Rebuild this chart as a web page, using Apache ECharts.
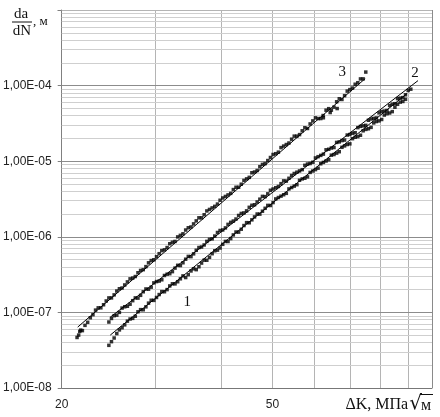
<!DOCTYPE html>
<html><head><meta charset="utf-8">
<script src="https://cdn.jsdelivr.net/npm/echarts@6/dist/echarts.min.js"></script>
<style>html,body{margin:0;padding:0;background:#fff}#c{width:440px;height:417px}</style>
</head><body><div id="c"></div>
<script>
// ---- data (ΔK in MPa·√m, da/dN in m/cycle) ----
const dK3 = [21.38,21.88,22.39,22.91,23.44,23.99,24.55,25.12,25.70,26.30,26.92,27.54,28.18,28.84,29.51,30.20,30.90,31.62,32.36,33.11,33.88,34.67,35.48,36.31,37.15,38.02,38.90,39.81,40.74,41.69,42.66,43.65,44.67,45.71,46.77,47.86,48.98,50.12,51.29,52.48,53.70,54.95,56.23,57.54,58.88,60.26,61.66,63.10,64.57,66.07,67.61,69.18,70.79,72.44,74.13,74.99,64.24,66.22,62.3,21.53,21.72];
const rate3 = [4.66e-8,5.74e-8,7.40e-8,9.33e-8,1.149e-7,1.262e-7,1.554e-7,1.706e-7,2.054e-7,2.307e-7,2.778e-7,2.981e-7,3.588e-7,4.031e-7,4.853e-7,5.452e-7,6.563e-7,7.206e-7,8.479e-7,9.97e-7,1.095e-6,1.318e-6,1.481e-6,1.783e-6,1.958e-6,2.302e-6,2.529e-6,3.044e-6,3.419e-6,3.754e-6,4.520e-6,4.962e-6,5.837e-6,7.029e-6,7.54e-6,9.077e-6,1.020e-5,1.227e-5,1.317e-5,1.585e-5,1.741e-5,2.145e-5,2.248e-5,2.770e-5,3.112e-5,3.746e-5,3.666e-5,4.727e-5,4.733e-5,6.107e-5,6.553e-5,8.453e-5,9.28e-5,1.092e-4,1.227e-4,1.510e-4,4.403e-5,4.97e-5,4.018e-5,5.01e-8,5.83e-8];
const dK3b = [21.63,22.13,22.65,23.17,23.71,24.27,24.83,25.41,26.00,26.61,27.23,27.86,28.51,29.17,29.85,30.55,31.26,31.99,32.73,33.50,34.28,35.08,35.89,36.73,37.58,38.46,39.36,40.27,41.21,42.17,43.15,44.16,45.19,46.24,47.32,48.42,49.55,50.70,51.88,53.09,54.33,55.59,56.89,58.21,59.57,60.95,62.37,63.83,65.31,66.83,68.39,69.98,71.61,73.28];
const rate3b = [5.60e-8,6.74e-8,8.50e-8,1.072e-7,1.150e-7,1.416e-7,1.555e-7,1.916e-7,2.103e-7,2.532e-7,2.844e-7,3.346e-7,3.674e-7,4.526e-7,4.969e-7,5.982e-7,6.72e-7,8.09e-7,8.68e-7,1.045e-6,1.229e-6,1.349e-6,1.624e-6,1.783e-6,2.198e-6,2.413e-6,2.710e-6,3.263e-6,3.583e-6,4.215e-6,4.522e-6,5.570e-6,6.115e-6,7.194e-6,8.465e-6,9.29e-6,1.119e-5,1.257e-5,1.513e-5,1.661e-5,1.954e-5,2.146e-5,2.524e-5,2.708e-5,3.413e-5,3.663e-5,3.753e-5,4.954e-5,5.194e-5,6.70e-5,7.355e-5,8.855e-5,1.042e-4,1.226e-4];

const dK2 = [24.55,25.12,25.70,26.30,26.92,27.54,28.18,28.84,29.51,30.20,30.90,31.62,32.36,33.11,33.88,34.67,35.48,36.31,37.15,38.02,38.90,39.81,40.74,41.69,42.66,43.65,44.67,45.71,46.77,47.86,48.98,50.12,51.29,52.48,53.70,54.95,56.23,57.54,58.88,60.26,61.66,63.10,64.57,66.07,67.61,69.18,70.79,72.44,74.13,75.86,77.62,79.43,81.28,83.18,85.11,87.10,89.13,91.20];
const rate2 = [7.46e-8,9.05e-8,1.001e-7,1.187e-7,1.283e-7,1.556e-7,1.682e-7,2.041e-7,2.157e-7,2.555e-7,2.70e-7,3.20e-7,3.461e-7,4.197e-7,4.537e-7,5.503e-7,5.95e-7,7.216e-7,7.80e-7,9.25e-7,1.023e-6,1.212e-6,1.311e-6,1.554e-6,1.719e-6,2.038e-6,2.203e-6,2.611e-6,2.888e-6,3.424e-6,3.702e-6,4.289e-6,4.636e-6,5.495e-6,5.94e-6,6.88e-6,7.44e-6,8.819e-6,9.32e-6,1.104e-5,1.194e-5,1.415e-5,1.495e-5,1.772e-5,1.873e-5,2.219e-5,2.345e-5,2.779e-5,2.936e-5,3.480e-5,3.678e-5,4.358e-5,4.605e-5,5.458e-5,5.767e-5,6.835e-5,7.56e-5,8.966e-5];
const dK2b = [24.83,25.41,26.00,26.61,27.23,27.86,28.51,29.17,29.85,30.55,31.26,31.99,32.73,33.50,34.28,35.08,35.89,36.73,37.58,38.46,39.36,40.27,41.21,42.17,43.15,44.16,45.19,46.24,47.32,48.42,49.55,50.70,51.88,53.09,54.33,55.59,56.89,58.21,59.57,60.95,62.37,63.83,65.31,66.83,68.39,69.98,71.61,73.28,74.99,76.74,78.52,80.35,82.22,84.14,86.10,88.10,90.16];
const rate2b = [8.316e-8,9.196e-8,1.141e-7,1.206e-7,1.429e-7,1.545e-7,1.874e-7,2.026e-7,2.458e-7,2.597e-7,3.078e-7,3.252e-7,3.854e-7,4.167e-7,5.053e-7,5.464e-7,6.63e-7,7.33e-7,8.69e-7,9.396e-7,1.140e-6,1.232e-6,1.460e-6,1.615e-6,1.915e-6,2.070e-6,2.454e-6,2.653e-6,3.145e-6,3.399e-6,4.124e-6,4.460e-6,5.047e-6,5.457e-6,6.467e-6,7.153e-6,7.734e-6,9.17e-6,9.685e-6,1.148e-5,1.241e-5,1.438e-5,1.518e-5,1.800e-5,1.903e-5,2.255e-5,2.382e-5,2.889e-5,2.983e-5,3.618e-5,3.735e-5,4.531e-5,4.679e-5,5.674e-5,6.726e-5,6.943e-5,8.619e-5];

const dK1 = [24.55,25.12,25.70,26.30,26.92,27.54,28.18,28.84,29.51,30.20,30.90,31.62,32.36,33.11,33.88,34.67,35.48,36.31,37.15,38.02,38.90,39.81,40.74,41.69,42.66,43.65,44.67,45.71,46.77,47.86,48.98,50.12,51.29,52.48,53.70,54.95,56.23,57.54,58.88,60.26,61.66,63.10,64.57,66.07,67.61,69.18,70.79,72.44,74.13,75.86,77.62,79.43,81.28,83.18,85.11,87.10,89.13];
const rate1 = [3.667e-8,4.585e-8,5.867e-8,6.845e-8,8.174e-8,8.903e-8,1.088e-7,1.185e-7,1.447e-7,1.576e-7,1.883e-7,2.003e-7,2.391e-7,2.546e-7,3.04e-7,3.161e-7,3.775e-7,4.017e-7,4.909e-7,5.346e-7,6.531e-7,7.114e-7,8.69e-7,9.467e-7,1.157e-6,1.26e-6,1.539e-6,1.676e-6,2.001e-6,2.180e-6,2.602e-6,2.835e-6,3.308e-6,3.601e-6,4.301e-6,4.684e-6,5.592e-6,5.95e-6,7.107e-6,7.74e-6,9.245e-6,1.006e-5,1.202e-5,1.279e-5,1.527e-5,1.663e-5,1.986e-5,2.114e-5,2.524e-5,2.686e-5,3.208e-5,3.413e-5,4.076e-5,4.338e-5,5.18e-5,6.045e-5,6.583e-5];
const dK1b = [24.83,25.41,26.00,26.61,27.23,27.86,28.51,29.17,29.85,30.55,31.26,31.99,32.73,33.50,34.28,35.08,35.89,36.73,37.58,38.46,39.36,40.27,41.21,42.17,43.15,44.16,45.19,46.24,47.32,48.42,49.55,50.70,51.88,53.09,54.33,55.59,56.89,58.21,59.57,60.95,62.37,63.83,65.31,66.83,68.39,69.98,71.61,73.28,74.99,76.74,78.52,80.35,82.22,84.14,86.10,88.10];
const rate1b = [4.101e-8,5.246e-8,6.265e-8,7.653e-8,8.339e-8,1.019e-7,1.084e-7,1.325e-7,1.442e-7,1.722e-7,1.876e-7,2.240e-7,2.384e-7,2.782e-7,2.892e-7,3.535e-7,3.676e-7,4.492e-7,4.893e-7,5.977e-7,6.66e-7,7.954e-7,8.662e-7,1.059e-6,1.153e-6,1.408e-6,1.534e-6,1.832e-6,1.994e-6,2.382e-6,2.594e-6,3.170e-6,3.451e-6,3.758e-6,4.489e-6,4.889e-6,5.835e-6,6.212e-6,7.418e-6,8.08e-6,9.645e-6,1.050e-5,1.226e-5,1.335e-5,1.594e-5,1.696e-5,2.073e-5,2.206e-5,2.634e-5,2.803e-5,3.347e-5,3.562e-5,4.253e-5,4.527e-5,5.659e-5,6.165e-5];

// fitted power-law lines (end points)
const fit3dK = [21.44, 74.8],  fit3rate = [6.39e-8, 1.237e-4];
const fit2dK = [24.7, 94.1],   fit2rate = [8.65e-8, 1.164e-4];
const fit1dK = [24.7, 89.7],   fit1rate = [5.01e-8, 7.84e-5];

// curve numbers
const curveNames = ['1', '2', '3'];
const curveLabelDK = [34.5, 92.9, 67.7];
const curveLabelRate = [1.37e-7, 1.486e-4, 1.49e-4];

// axis ticks / grid
const xMin = 20, xMax = 100, yMin = 1e-8, yMax = 1e-3;
const xTickLabels = [20, 50];
const xGridValues = [30, 40, 50, 60, 70, 80, 90, 100];
const yDecades = [1e-8, 1e-7, 1e-6, 1e-5, 1e-4, 1e-3];
const yMinorMult = [2, 3, 4, 5, 6, 7, 8, 9];

// ---- build ----
const zip = (a, b) => a.map((v, i) => [v, b[i]]);
const gridLines = [];
xGridValues.forEach(v => gridLines.push([
  {coord: [v, yMin], lineStyle: {color: v === 100 ? '#8a8a8a' : '#b4b4b4'}}, {coord: [v, yMax]}]));
const hLine = (v, color) => gridLines.push([{coord: [xMin, v], lineStyle: {color}}, {coord: [xMax, v]}]);
yDecades.forEach((d, i) => {
  if (i > 0) hLine(d, i === yDecades.length - 1 ? '#b4b4b4' : '#8c8c8c');
  if (i < yDecades.length - 1) yMinorMult.forEach(m => hLine(m * d, '#cfcfcf'));
});

const fmtY = v => {
  const e = Math.round(Math.log10(v));
  if (e >= -3) return '';
  const a = Math.abs(e);
  return '1,00E' + (e < 0 ? '-' : '+') + (a < 10 ? '0' : '') + a;
};

const scatterStyle = {type: 'scatter', symbol: 'rect', symbolSize: 3.5, itemStyle: {color: '#000'}, z: 3, silent: true};
const fitStyle = {type: 'line', symbol: 'none', lineStyle: {color: '#000', width: 1}, z: 4, silent: true};

const chart = echarts.init(document.getElementById('c'));
const option = {
  animation: false,
  backgroundColor: '#fff',
  grid: {left: 61, right: 8, top: 10, bottom: 29},
  xAxis: {
    type: 'log', logBase: 10, min: xMin, max: xMax,
    axisLine: {show: true, lineStyle: {color: '#777', width: 1}},
    axisTick: {show: false}, axisLabel: {show: false}, splitLine: {show: false}
  },
  yAxis: {
    type: 'log', logBase: 10, min: yMin, max: yMax,
    axisLine: {show: true, lineStyle: {color: '#808080', width: 1}},
    axisTick: {show: true, length: 4, lineStyle: {color: '#808080'}},
    axisLabel: {formatter: fmtY, fontFamily: 'Liberation Sans', fontSize: 12, color: '#222', margin: 10},
    splitLine: {show: false}
  },
  series: [
    {type: 'line', data: [], silent: true,
     markLine: {silent: true, z: 1, symbol: ['none', 'none'], label: {show: false}, emphasis: {disabled: true},
       lineStyle: {type: 'solid', width: 1}, data: gridLines}},
    Object.assign({name: 'fit3', data: zip(fit3dK, fit3rate)}, fitStyle),
    Object.assign({name: 'fit2', data: zip(fit2dK, fit2rate)}, fitStyle),
    Object.assign({name: 'fit1', data: zip(fit1dK, fit1rate)}, fitStyle),
    Object.assign({name: '3', data: zip(dK3, rate3).concat(zip(dK3b, rate3b))}, scatterStyle),
    Object.assign({name: '2', data: zip(dK2, rate2).concat(zip(dK2b, rate2b))}, scatterStyle),
    Object.assign({name: '1', data: zip(dK1, rate1).concat(zip(dK1b, rate1b))}, scatterStyle)
  ]
};
chart.setOption(option);

// annotations placed through the chart's own scales
const toPx = (x, y) => chart.convertToPixel({gridIndex: 0}, [x, y]);
const serif = '"Liberation Serif"';
const g = [];
xTickLabels.forEach(v => {
  const p = toPx(v, yMin);
  g.push({type: 'text', x: p[0], y: p[1] + 17, style: {text: String(v), font: '12px "Liberation Sans"', fill: '#222', align: 'center', verticalAlign: 'middle'}});
});
curveNames.forEach((n, i) => {
  const p = toPx(curveLabelDK[i], curveLabelRate[i]);
  g.push({type: 'text', x: p[0], y: p[1], style: {text: n, font: '15px ' + serif, fill: '#111', align: 'center', verticalAlign: 'middle'}});
});
// y axis title: da/dN, м
g.push({type: 'text', x: 21, y: 14, style: {text: 'da', font: '15px ' + serif, fill: '#111', align: 'center', verticalAlign: 'middle'}});
g.push({type: 'line', shape: {x1: 12, y1: 22, x2: 32, y2: 22}, style: {stroke: '#111', lineWidth: 1}});
g.push({type: 'text', x: 22, y: 31, style: {text: 'dN', font: '15px ' + serif, fill: '#111', align: 'center', verticalAlign: 'middle'}});
g.push({type: 'text', x: 33, y: 22, style: {text: ', м', font: '13px ' + serif, fill: '#111', align: 'left', verticalAlign: 'middle'}});
// x axis title: ΔK, МПа√м  (laid out right-to-left from the plot's right edge)
const ctx = document.createElement('canvas').getContext('2d');
const tFont = '16px ' + serif, rFont = '20px "DejaVu Serif"';
ctx.font = tFont; const wm = ctx.measureText('м').width;
ctx.font = rFont; const wr = ctx.measureText('√').width;
const rightEdge = 432, midY = 405;
const xm = rightEdge - wm - 1;
const xr = xm - wr + 1;
g.push({type: 'text', x: xr - 1, y: midY, style: {text: 'ΔK, МПа', font: tFont, fill: '#111', align: 'right', verticalAlign: 'middle'}});
g.push({type: 'text', x: xr, y: midY - 1, style: {text: '√', font: rFont, fill: '#111', align: 'left', verticalAlign: 'middle'}});
g.push({type: 'text', x: xm, y: midY + 1, style: {text: 'м', font: tFont, fill: '#111', align: 'left', verticalAlign: 'middle'}});
g.push({type: 'line', shape: {x1: xm - 1, y1: 394.5, x2: rightEdge + 1, y2: 394.5}, style: {stroke: '#111', lineWidth: 1}});
chart.setOption({graphic: g});
</script>
</body></html>
